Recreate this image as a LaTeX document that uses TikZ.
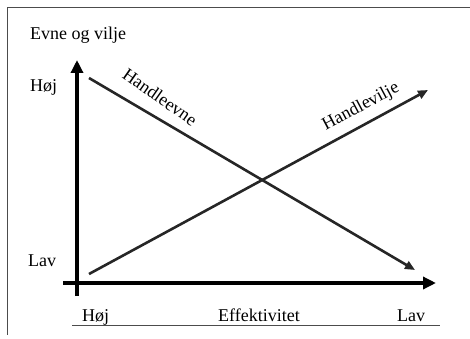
\documentclass[tikz,border=0pt]{standalone}
\usepackage{fontspec}
\setmainfont{Liberation Serif}
\usetikzlibrary{arrows.meta}
\tikzset{
  frameline/.style={draw=black!70, line width=1pt},
  axisline/.style={line width=4.2pt, -{Triangle[length=13pt,width=12pt]}},
  trendline/.style={line width=2.6pt, draw=black!85, -{Triangle[length=10pt,width=8.5pt]}},
  lbl/.style={font=\fontsize{18}{20}\selectfont, inner sep=0pt},
}
\begin{document}
\begin{tikzpicture}[x=1pt,y=-1pt]
\useasboundingbox (0,0) rectangle (470,339);
% frame
\coordinate (ftr) at (470,8);
\coordinate (ftl) at (7,8);
\coordinate (fbl) at (7,335);
\draw[frameline] (ftr) -- (ftl) -- (fbl);
% axes
\coordinate (ybot) at (77,296);
\coordinate (ytop) at (77,60);
\coordinate (xleft) at (63,283);
\coordinate (xright) at (436,283);
\draw[axisline] (ybot) -- (ytop);
\draw[axisline] (xleft) -- (xright);
% trend lines
\coordinate (e1) at (89,78);
\coordinate (e2) at (415,270);
\coordinate (v1) at (89,274);
\coordinate (v2) at (428,90);
\draw[trendline] (e1) -- (e2);
\draw[trendline] (v1) -- (v2);
\node[lbl, rotate=-35] (evne) at (160,97) {Handleevne};
\node[lbl, rotate=28] (vilje) at (361,107) {Handlevilje};
% labels
\node[lbl, anchor=base west] (title) at (30,40) {Evne og vilje};
\node[lbl, anchor=base west] (yhigh) at (30,92) {Høj};
\node[lbl, anchor=base west] (ylow) at (28,266) {Lav};
\node[lbl, anchor=base west] (xhigh) at (82,321) {Høj};
\node[lbl, anchor=base] (xmid) at (259,321) {Effektivitet};
\node[lbl, anchor=base west] (xlow) at (397,321) {Lav};
% underline
\coordinate (ul1) at (72,325);
\coordinate (ul2) at (440,325);
\draw[draw=black!70, line width=0.8pt] (ul1) -- (ul2);
\end{tikzpicture}
\end{document}
